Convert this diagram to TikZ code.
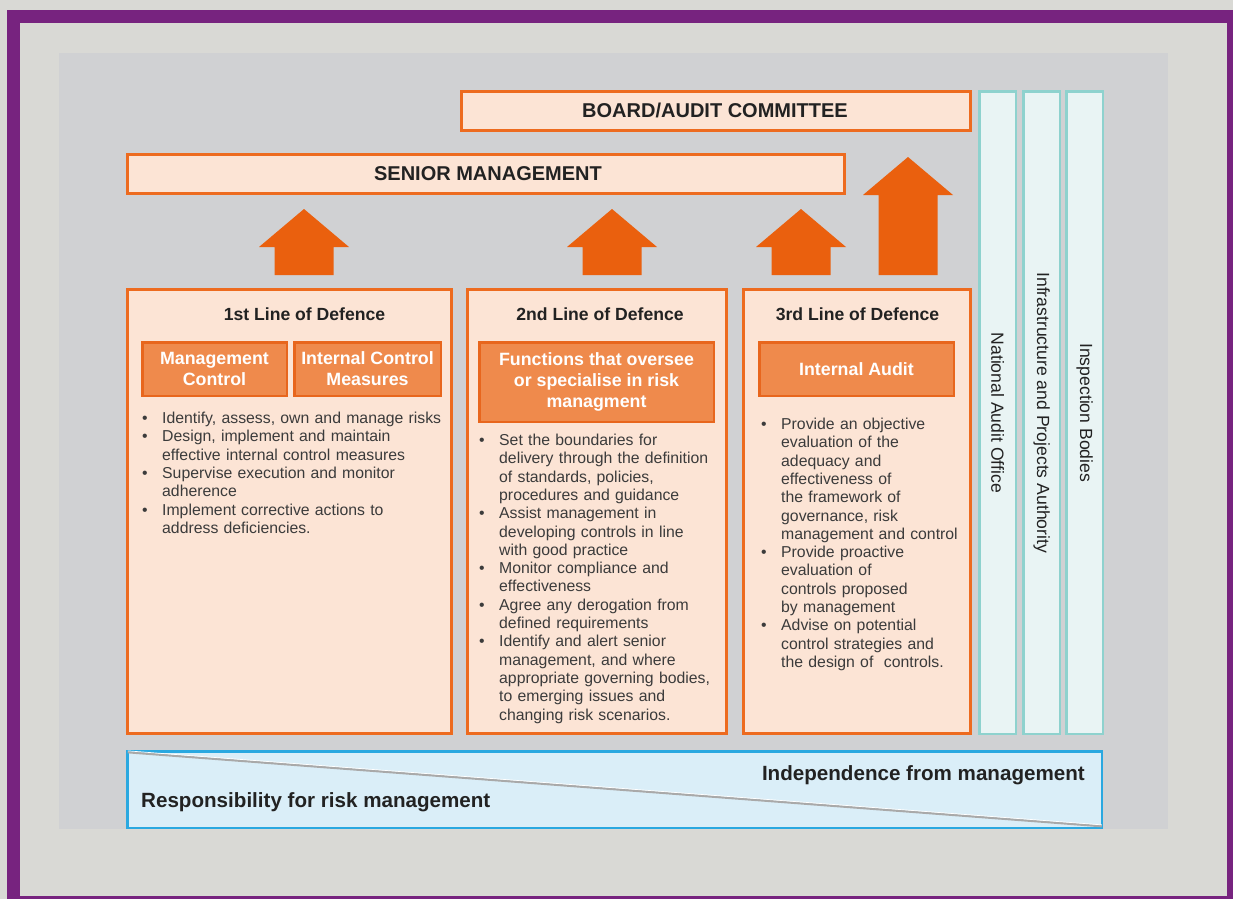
\documentclass[tikz,border=0pt]{standalone}
\usepackage{fontspec}
\setmainfont{Liberation Sans}
\definecolor{outerbg}{HTML}{D9D9D5}
\definecolor{frame}{HTML}{77237F}
\definecolor{panel}{HTML}{D0D1D3}
\definecolor{boxfill}{HTML}{FCE4D5}
\definecolor{boxedge}{HTML}{ED6B1F}
\definecolor{infill}{HTML}{EF8A4C}
\definecolor{inedge}{HTML}{E8661D}
\definecolor{arrowfill}{HTML}{EA600E}
\definecolor{tealedge}{HTML}{8ED2CE}
\definecolor{tealfill}{HTML}{E9F4F4}
\definecolor{blueedge}{HTML}{2AA8E0}
\definecolor{bluefill}{HTML}{DAEEF8}
\definecolor{titletext}{HTML}{222222}
\definecolor{bodytext}{HTML}{3B3B3B}
\definecolor{diag}{HTML}{A9A9A9}
\newcommand\lodbul[1]{\par\hangindent=20pt\hangafter=1\noindent\makebox[20pt][l]{\textbullet}#1}
\newcommand\nl{\newline}
\begin{document}
\begin{tikzpicture}[x=1pt,y=-1pt,
  topbox/.style={draw=boxedge,fill=boxfill,line width=3pt,inner sep=0pt},
  toptext/.style={inner sep=0pt,font=\fontsize{20}{24}\selectfont\bfseries,text=titletext},
  lodbox/.style={draw=boxedge,fill=boxfill,line width=3pt,inner sep=0pt,anchor=north west},
  lodtitle/.style={inner sep=0pt,font=\fontsize{17.6}{20}\selectfont\bfseries,text=titletext},
  inbox/.style={draw=inedge,fill=infill,line width=2.5pt,inner sep=0pt,align=center,
    text=white,font=\fontsize{17.8}{21}\selectfont\bfseries},
  bullets/.style={inner sep=0pt,anchor=north west,align=left,text=bodytext,
    font=\fontsize{15.8}{18.3}\selectfont},
  vbox/.style={draw=tealedge,fill=tealfill,line width=2.5pt,inner sep=0pt,anchor=north west,
    minimum width=36.5pt,minimum height=642.5pt},
  vtext/.style={rotate=-90,inner sep=0pt,text=titletext,font=\fontsize{17.6}{20}\selectfont},
  bottomtext/.style={inner sep=0pt,text=titletext,font=\fontsize{20.6}{24}\selectfont\bfseries},
  pics/uparr/.style={code={
    \fill[arrowfill] (0,0) -- (45,38) -- (29.5,38) -- (29.5,#1) -- (-29.5,#1)
      -- (-29.5,38) -- (-45,38) -- cycle;}}
]
\useasboundingbox (0,0) rectangle (1233,899);
\fill[outerbg] (0,0) rectangle (1233,899);
\fill[frame] (7,10) rectangle (1233,899);
\fill[outerbg] (20,23) rectangle (1227,896);
\fill[panel] (59,53) rectangle (1168,829);

% top boxes
\node[topbox,anchor=north west,minimum width=509pt,minimum height=39pt] (board) at (460,90) {};
\node[toptext] (boardt) at (715,110.5) {BOARD/AUDIT COMMITTEE};
\node[topbox,anchor=north west,minimum width=717pt,minimum height=39pt] (senior) at (126,153) {};
\node[toptext] (seniort) at (488,173.5) {SENIOR MANAGEMENT};

% arrows
\pic at (304,209) {uparr=66};
\pic at (612,209) {uparr=66};
\pic at (801,209) {uparr=66};
\pic at (908,157) {uparr=118};

% lines of defence
\node[lodbox,minimum width=324pt,minimum height=444pt] (lod1) at (126,288) {};
\node[lodbox,minimum width=259pt,minimum height=444pt] (lod2) at (466,288) {};
\node[lodbox,minimum width=227pt,minimum height=444pt] (lod3) at (742,288) {};

\node[lodtitle] (t1) at (304.5,314) {1st Line of Defence};
\node[lodtitle] (t2) at (600,314) {2nd Line of Defence};
\node[lodtitle] (t3) at (857.5,314) {3rd Line of Defence};

\node[inbox,minimum width=144.5pt,minimum height=53.5pt] (mc) at (214.5,369) {Management\\Control};
\node[inbox,minimum width=146.5pt,minimum height=53.5pt] (icm) at (367.5,369) {Internal Control\\Measures};
\node[inbox,minimum width=234.5pt,minimum height=79.5pt] (fun) at (596.5,382) {Functions that oversee\\or specialise in risk\\managment};
\node[inbox,minimum width=194.5pt,minimum height=53.5pt] (ia) at (856.5,369) {Internal Audit};

\node[bullets,text width=300pt] (b1) at (142,405) {%
\lodbul{Identify, assess, own and manage risks}
\lodbul{Design, implement and maintain\nl effective internal control measures}
\lodbul{Supervise execution and monitor\nl adherence}
\lodbul{Implement corrective actions to\nl address deficiencies.}\par};

\node[bullets,text width=245pt] (b2) at (479,427) {%
\lodbul{Set the boundaries for\nl delivery through the definition\nl of standards, policies,\nl procedures and guidance}
\lodbul{Assist management in\nl developing controls in line\nl with good practice}
\lodbul{Monitor compliance and\nl effectiveness}
\lodbul{Agree any derogation from\nl defined requirements}
\lodbul{Identify and alert senior\nl management, and where\nl appropriate governing bodies,\nl to emerging issues and\nl changing risk scenarios.}\par};

\node[bullets,text width=215pt] (b3) at (761,411) {%
\lodbul{Provide an objective\nl evaluation of the\nl adequacy and\nl effectiveness of\nl the framework of\nl governance, risk\nl management and control}
\lodbul{Provide proactive\nl evaluation of\nl controls proposed\nl by management}
\lodbul{Advise on potential\nl control strategies and\nl the design of\ \ controls.}\par};

% external bodies
\node[vbox] (nao) at (978.25,90.25) {};
\node[vbox] (ipa) at (1022.25,90.25) {};
\node[vbox] (insp) at (1065.25,90.25) {};
\node[vtext] (naot) at (nao.center) {National Audit Office};
\node[vtext] (ipat) at (ipa.center) {Infrastructure and Projects Authority};
\node[vtext] (inspt) at (insp.center) {Inspection Bodies};

% bottom band
\node[draw=blueedge,fill=bluefill,line width=2.5pt,inner sep=0pt,anchor=north west,
  minimum width=974.5pt,minimum height=76.5pt] (band) at (126.25,750.25) {};
\draw[diag,line width=2.2pt] ([shift={(1.5,2)}]band.north west) -- ([shift={(-1.5,-3)}]band.south east);
\draw[white,line width=0.7pt] ([shift={(1.5,0.6)}]band.north west) -- ([shift={(-1.5,-4.4)}]band.south east);
\node[bottomtext,anchor=east] (indep) at (1085,775) {Independence from management};
\node[bottomtext,anchor=west] (resp) at (141,802) {Responsibility for risk management};
\end{tikzpicture}
\end{document}
